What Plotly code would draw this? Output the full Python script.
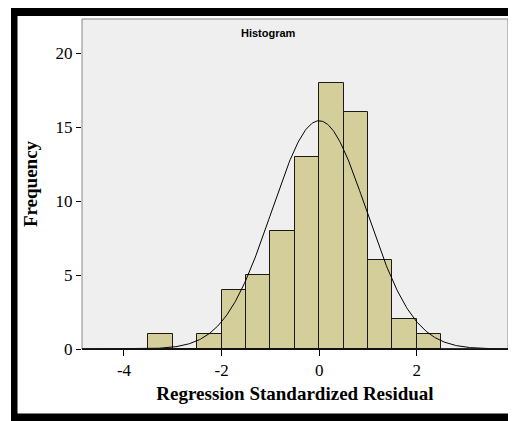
import numpy as np
import plotly.graph_objects as go

# Histogram bins (left edges) and counts
bin_left = [-3.5, -3.0, -2.5, -2.0, -1.5, -1.0, -0.5, 0.0, 0.5, 1.0, 1.5, 2.0]
counts = [1, 0, 1, 4, 5, 8, 13, 18, 16, 6, 2, 1]
bin_width = 0.5

# Normal curve parameters (as in SPSS output)
curve_mean = 0.0
curve_sd = 0.97
n_total = sum(counts)

x_ticks = [-4, -2, 0, 2]
x_tick_text = ["-4", "-2", "0", "2"]
y_ticks = [0, 5, 10, 15, 20]

# page body has an 8px margin, so the figure is offset by 8px
OFF = 8
W, H = 516 - OFF, 421 - OFF
L, T = 82 - OFF, 19 - OFF
R = W - (508 - OFF)
B = H - (349 - OFF)
pw, ph = W - L - R, H - T - B


def px(xp):  # page pixel -> paper x
    return (xp - OFF - L) / pw


def py(yp):  # page pixel -> paper y
    return (H - B - (yp - OFF)) / ph


centers = [b + bin_width / 2 for b in bin_left]

fig = go.Figure()
fig.add_trace(go.Bar(
    x=centers, y=counts, width=bin_width,
    marker=dict(color="#d4cf9a", line=dict(color="#1a1a1a", width=1)),
    showlegend=False, hoverinfo="skip",
))

xc = np.linspace(-4.86, 3.87, 400)
yc = n_total * bin_width / (curve_sd * np.sqrt(2 * np.pi)) * np.exp(-0.5 * ((xc - curve_mean) / curve_sd) ** 2)
fig.add_trace(go.Scatter(x=xc, y=yc, mode="lines", line=dict(color="black", width=1),
                         showlegend=False, hoverinfo="skip"))

serif = "Liberation Serif, Times New Roman, serif"

fig.update_layout(
    width=W, height=H,
    margin=dict(l=L, r=R, t=T, b=B, pad=0, autoexpand=False),
    paper_bgcolor="white", plot_bgcolor="#efefef",
    bargap=0,
    xaxis=dict(range=[-4.86, 3.87], tickvals=x_ticks, ticktext=x_tick_text,
               ticks="outside", ticklen=6, automargin=False,
               tickcolor="black", showgrid=False, zeroline=False,
               showline=True, linecolor="black", linewidth=1,
               tickfont=dict(family=serif, size=17, color="black"),
               title=dict(text="<b>Regression Standardized Residual</b>",
                          font=dict(family=serif, size=19, color="black"), standoff=7)),
    yaxis=dict(range=[0, 22.3], tickvals=y_ticks, ticks="outside", ticklen=5,
               tickcolor="black", showgrid=False, zeroline=False, automargin=False,
               showline=False,
               tickfont=dict(family=serif, size=17, color="black"),
               title=dict(text="<b>Frequency</b>",
                          font=dict(family=serif, size=19, color="black"), standoff=12)),
    font=dict(family=serif, color="black"),
)

shapes = [
    # plot frame (gray)
    dict(type="rect", xref="paper", yref="paper", x0=0, x1=1, y0=0, y1=1,
         line=dict(color="#888888", width=1), layer="above"),
    # x axis base line
    dict(type="line", xref="paper", yref="paper", x0=0, x1=1, y0=0, y1=0,
         line=dict(color="black", width=1.5), layer="above"),
    # black outer frame
    dict(type="rect", xref="paper", yref="paper", x0=px(11), x1=px(516), y0=py(16), y1=py(8),
         fillcolor="black", line=dict(width=0), layer="above"),
    dict(type="rect", xref="paper", yref="paper", x0=px(11), x1=px(17.5), y0=py(421), y1=py(8),
         fillcolor="black", line=dict(width=0), layer="above"),
    dict(type="rect", xref="paper", yref="paper", x0=px(11), x1=px(516), y0=py(421), y1=py(413.5),
         fillcolor="black", line=dict(width=0), layer="above"),
]
fig.update_layout(shapes=shapes)

fig.add_annotation(text="<b>Histogram</b>", xref="paper", yref="paper",
                   x=px(268), y=py(33), xanchor="center", yanchor="middle", showarrow=False,
                   font=dict(family="Liberation Sans, Arial, sans-serif", size=11, color="black"))

fig.write_html("out.html", post_script="document.documentElement.style.overflow='hidden';document.body.style.overflow='hidden';")
